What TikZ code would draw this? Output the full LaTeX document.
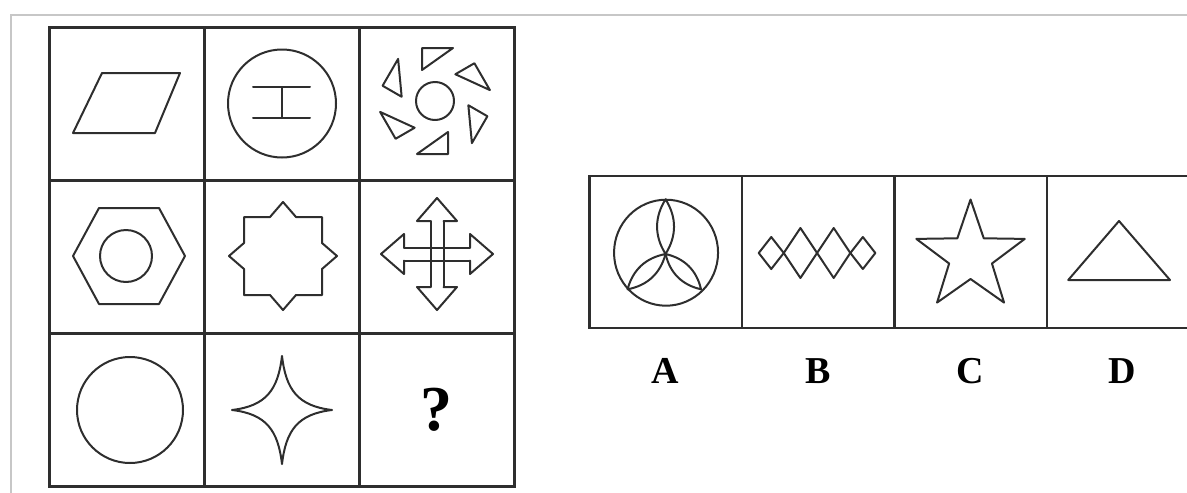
\documentclass[tikz,border=0pt]{standalone}
\usepackage{fontspec}
\setmainfont{Liberation Serif}
\usetikzlibrary{matrix,positioning}

\begin{document}
\begin{tikzpicture}[
    x=1pt, y=-1pt,
    gridline/.style={draw=black!82, line width=2.6pt},
    cell/.style={gridline, minimum width=155pt, minimum height=153pt, inner sep=0pt, outer sep=0pt},
    optcell/.style={gridline, minimum width=152.5pt, minimum height=152pt, inner sep=0pt, outer sep=0pt},
    opencell/.style={optcell, draw=none},      % strip runs off the right edge
    qmark/.style={cell, font=\fontsize{64}{64}\selectfont\bfseries},
    letter/.style={font=\fontsize{38}{38}\selectfont\bfseries, inner sep=0pt},
    fig/.style={draw=black!82, line width=2pt, line join=round, line cap=round},
    pageframe/.style={draw=black!22, line width=1.4pt},
    every matrix/.style={ampersand replacement=\&}
  ]

% 3x3 puzzle grid on the left, answer strip A-D on the right.
% Shapes are drawn in scopes shifted to the centre of their cell.

  \useasboundingbox (0,0) rectangle (1187,493);
  \coordinate (pageR) at (1187,0);
  \draw[pageframe] (11,493) -- (11,15) -- (1187,15);

% --- Puzzle grid (3x3) ---
    \matrix (grid) [row sep=-2.6pt, column sep=-2.6pt] at (282,257) {
      \node[cell] (c11) {}; \& \node[cell] (c12) {}; \& \node[cell]  (c13) {};  \\
      \node[cell] (c21) {}; \& \node[cell] (c22) {}; \& \node[cell]  (c23) {};  \\
      \node[cell] (c31) {}; \& \node[cell] (c32) {}; \& \node[qmark] (c33) {?}; \\
    };

% --- Answer strip (right end cut off) ---
    \matrix (strip) [row sep=-2.6pt, column sep=-2.6pt] at (893,252) {
      \node[optcell] (oA) {}; \& \node[optcell] (oB) {}; \& \node[optcell] (oC) {}; \& \node[opencell] (oD) {}; \\
    };
    \draw[gridline] (oD.north west) -- (oD.north west -| pageR);
    \draw[gridline] (oD.south west) -- (oD.south west -| pageR);

    \node[letter, below=30pt of oA] (labA) {A};
    \node[letter, below=30pt of oB] (labB) {B};
    \node[letter, below=30pt of oC] (labC) {C};
    \node[letter, below=30pt of oD] (labD) {D};

% --- Row 1 ---
    \begin{scope}[shift={(c11.center)}]
      \draw[fig] (-54,29) -- (28,29) -- (53,-31) -- (-25,-31) -- cycle;
    \end{scope}
    \begin{scope}[shift={(c12.center)}]
      \draw[fig] (0,-0.5) circle[radius=54pt];
      \draw[fig] (-29,-17) -- (28,-17) (-29,14) -- (28,14) (0,-17) -- (0,14);
    \end{scope}
    \begin{scope}[shift={(c13.center)}, shift={(-2,-3)}]
      \draw[fig] (0,0) circle[radius=19pt];
      \foreach \a in {0,60,...,300}
        \draw[fig, rotate=\a] (-13,-53) -- (18,-53) -- (-13,-31) -- cycle;
    \end{scope}

% --- Row 2 ---
    \begin{scope}[shift={(c21.center)}]
      \draw[fig] (-28,-49) -- (32,-49) -- (58,-1) -- (32,47) -- (-28,47) -- (-54,-1) -- cycle;
      \draw[fig] (-1,-1) circle[radius=26pt];
    \end{scope}
    \begin{scope}[shift={(c22.center)}, shift={(1,-1)}]
      \draw[fig] (-39,-39) -- (-13,-39) -- (0,-54) -- (13,-39) -- (39,-39) -- (39,-13) -- (54,0)
        -- (39,13) -- (39,39) -- (13,39) -- (0,54) -- (-13,39) -- (-39,39) -- (-39,13)
        -- (-54,0) -- (-39,-13) -- cycle;
    \end{scope}
    \begin{scope}[shift={(c23.center)}, shift={(0,-3)}]
      \foreach \a in {0,90,180,270}
        \draw[fig, rotate=\a] (-6.5,-33) -- (-20,-33) -- (0,-56) -- (20,-33) -- (6.5,-33);
      \foreach \a in {0,90}
        \draw[fig, rotate=\a] (-6.5,-33) -- (-6.5,33) (6.5,-33) -- (6.5,33);
    \end{scope}

% --- Row 3 ---
    \begin{scope}[shift={(c31.center)}]
      \draw[fig] (3,0) circle[radius=53pt];
    \end{scope}
    \begin{scope}[shift={(c32.center)}]
      \draw[fig] (0,-54) .. controls (4,-20) and (16,-4) .. (50,0)
        .. controls (16,4) and (4,20) .. (0,54)
        .. controls (-4,20) and (-16,4) .. (-50,0)
        .. controls (-16,-4) and (-4,-20) .. (0,-54);
    \end{scope}

% --- Options ---
    \begin{scope}[shift={(oA.center)}]
      \draw[fig] (0.5,0.7) ellipse[x radius=52pt, y radius=53pt];
      \foreach \px/\py in {0/-52.7, -38/37.3, 35.5/37.3}
        \draw[fig] (0,2) to[bend left=32] (\px,\py) to[bend left=32] (0,2);
    \end{scope}
    \begin{scope}[shift={(oB.center)}, shift={(-1,1)}]
      \foreach \cx/\hw/\hh in {-45.8/12.5/16, -16.65/16.65/25, 16.65/16.65/25, 45.8/12.5/16}
        \draw[fig] ({\cx-\hw},0) -- (\cx,-\hh) -- ({\cx+\hw},0) -- (\cx,\hh) -- cycle;
    \end{scope}
    \begin{scope}[shift={(oC.center)}, shift={(0,4.5)}]
      \draw[fig] (0,-57) -- (13.2,-18.2) -- (54.2,-17.6) -- (21.4,7) -- (33.5,46.1) -- (0,22.5)
        -- (-33.5,46.1) -- (-21.4,7) -- (-54.2,-17.6) -- (-13.2,-18.2) -- cycle;
    \end{scope}
    \begin{scope}[shift={(oD.center)}]
      \draw[fig] (-2.75,-31) -- (48.25,28) -- (-53.5,28) -- cycle;
    \end{scope}

\end{tikzpicture}
\end{document}
